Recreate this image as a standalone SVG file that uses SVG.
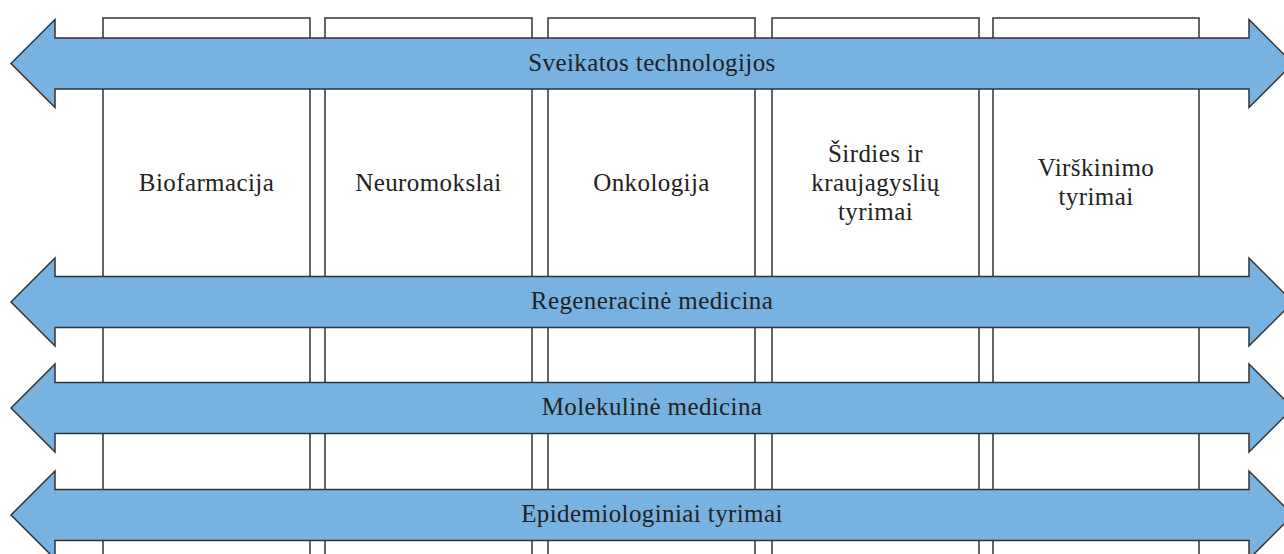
<svg xmlns="http://www.w3.org/2000/svg" width="1284" height="554" viewBox="0 0 1284 554">
<defs>
<style>
.col{fill:#fff;stroke:#333;stroke-width:1.5}
.arr{fill:#77b2e0;stroke:#333;stroke-width:1.5;stroke-linejoin:miter}
text{font-family:"Liberation Serif","DejaVu Serif",serif;font-size:25px;letter-spacing:0.4px;fill:#222;text-anchor:middle}
</style>
<path id="band" d="M11,0 L55,-44 L55,-25.5 L1249,-25.5 L1249,-44 L1293,0 L1249,44 L1249,25.5 L55,25.5 L55,44 Z"/>
</defs>
<rect width="1284" height="554" fill="#fff"/>
<g id="col1"><rect class="col" x="103" y="18" width="207" height="545"/><text x="206.5" y="191">Biofarmacija</text></g>
<g id="col2"><rect class="col" x="325" y="18" width="207" height="545"/><text x="428.5" y="191">Neuromokslai</text></g>
<g id="col3"><rect class="col" x="548" y="18" width="207" height="545"/><text x="651.5" y="191">Onkologija</text></g>
<g id="col4"><rect class="col" x="772" y="18" width="207" height="545"/><text x="875.5" y="162">Širdies ir</text><text x="875.5" y="191">kraujagyslių</text><text x="875.5" y="220">tyrimai</text></g>
<g id="col5"><rect class="col" x="993" y="18" width="206" height="545"/><text x="1096" y="176">Virškinimo</text><text x="1096" y="205">tyrimai</text></g>
<g id="connectors">
<g id="band1"><use href="#band" class="arr" transform="translate(0,63.5)"/><text x="652" y="71">Sveikatos technologijos</text></g>
<g id="band2"><use href="#band" class="arr" transform="translate(0,302)"/><text x="652" y="309">Regeneracinė medicina</text></g>
<g id="band3"><use href="#band" class="arr" transform="translate(0,408)"/><text x="652" y="415">Molekulinė medicina</text></g>
<g id="band4"><use href="#band" class="arr" transform="translate(0,515)"/><text x="652" y="522">Epidemiologiniai tyrimai</text></g>
</g>
</svg>
